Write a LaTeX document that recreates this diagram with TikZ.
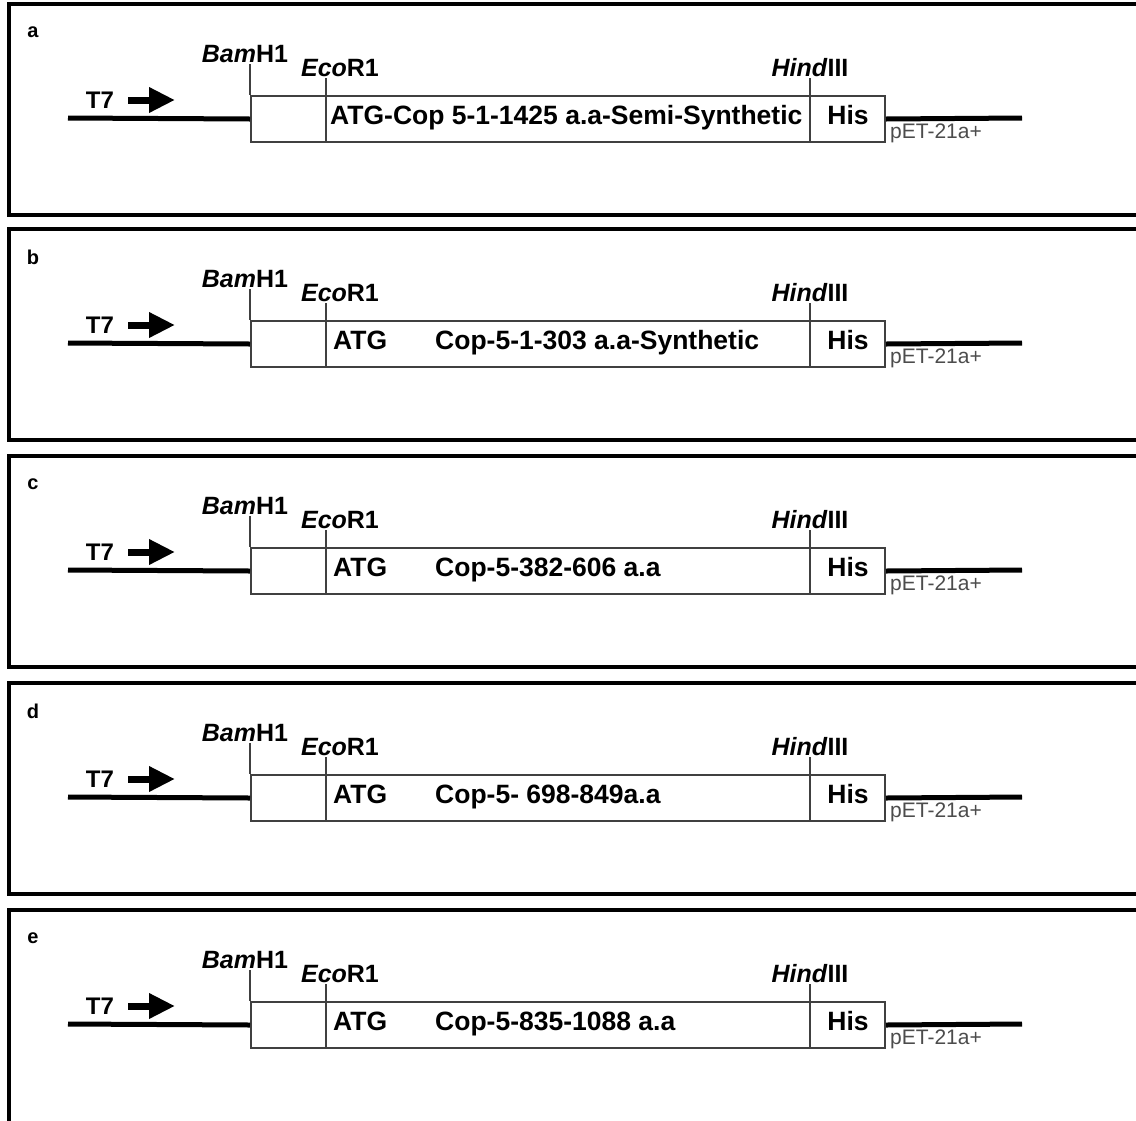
\documentclass[tikz,border=0pt]{standalone}
\usepackage{fontspec}
\setmainfont{Liberation Sans}
\usetikzlibrary{positioning,arrows.meta}

\begin{document}
\begin{tikzpicture}[
  x=1pt,y=-1pt,
  panel/.style={draw=black,line width=4pt},
  ins/.style={rectangle,draw=black!75,line width=2pt,minimum width=634pt,
              minimum height=46pt,anchor=north west,inner sep=0pt},
  tick/.style={draw=black!75,line width=2pt},
  dna/.style={line width=5pt,black},
  site/.style={font=\fontsize{25}{27}\selectfont\bfseries,inner sep=1pt,anchor=south},
  gene/.style={font=\fontsize{26.5}{28}\selectfont\bfseries,inner sep=0pt,anchor=base west},
  his/.style={gene,anchor=base},
  tag/.style={font=\fontsize{20}{22}\selectfont\bfseries,inner sep=0pt},
  vec/.style={font=\fontsize{21}{23}\selectfont,text=black!70,inner sep=0pt,anchor=west},
  prom/.style={font=\fontsize{24}{26}\selectfont\bfseries,inner sep=0pt,anchor=base},
  promo/.style={line width=7pt,-{Triangle[length=26pt,width=24pt]}},
]
\useasboundingbox (0,0) rectangle (1136,1120);

% ---- panel a ----
\begin{scope}
\draw[panel] (9,4) rectangle (1160,215);
\node[tag] (tag-a) at (33,32) {a};
\node[prom] (t7-a) at (100,108) {T7};
\coordinate (tip-a) at (175,100);
\draw[promo] (128,100) -- (tip-a);
\node[ins] (ins-a) at (250,95) {};
\coordinate (bam-a) at (250,64);
\coordinate (eco-a) at (326,78);
\coordinate (hind-a) at (810,78);
\coordinate (start-a) at (68,118);
\coordinate (end-a) at (1022,118);
\draw[tick] (bam-a) -- (ins-a.north west);
\draw[tick] (eco-a) -- (eco-a |- ins-a.south);
\draw[tick] (hind-a) -- (hind-a |- ins-a.south);
\node[site,xshift=-5pt] (bamlbl-a) at (bam-a) {\textit{Bam}H1};
\node[site,xshift=14pt] (ecolbl-a) at (eco-a) {\textit{Eco}R1};
\node[site] (hindlbl-a) at (hind-a) {\textit{Hind}III};
\draw[dna] (start-a) -- (ins-a.west);
\draw[dna] (ins-a.east) -- (end-a);
\node[vec,xshift=4pt] (vec-a) at ([yshift=-14pt]ins-a.east) {pET-21a+};
\node[gene] (cop-a) at (330,124) {ATG-Cop 5-1-1425 a.a-Semi-Synthetic};
\node[his] (his-a) at (848,124) {His};
\end{scope}

% ---- panel b ----
\begin{scope}[yshift=-225pt]
\draw[panel] (9,4) rectangle (1160,215);
\node[tag] (tag-b) at (33,32) {b};
\node[prom] (t7-b) at (100,108) {T7};
\coordinate (tip-b) at (175,100);
\draw[promo] (128,100) -- (tip-b);
\node[ins] (ins-b) at (250,95) {};
\coordinate (bam-b) at (250,64);
\coordinate (eco-b) at (326,78);
\coordinate (hind-b) at (810,78);
\coordinate (start-b) at (68,118);
\coordinate (end-b) at (1022,118);
\draw[tick] (bam-b) -- (ins-b.north west);
\draw[tick] (eco-b) -- (eco-b |- ins-b.south);
\draw[tick] (hind-b) -- (hind-b |- ins-b.south);
\node[site,xshift=-5pt] (bamlbl-b) at (bam-b) {\textit{Bam}H1};
\node[site,xshift=14pt] (ecolbl-b) at (eco-b) {\textit{Eco}R1};
\node[site] (hindlbl-b) at (hind-b) {\textit{Hind}III};
\draw[dna] (start-b) -- (ins-b.west);
\draw[dna] (ins-b.east) -- (end-b);
\node[vec,xshift=4pt] (vec-b) at ([yshift=-14pt]ins-b.east) {pET-21a+};
\node[gene] (atg-b) at (333,124) {ATG};
\node[gene] (cop-b) at (435,124) {Cop-5-1-303 a.a-Synthetic};
\node[his] (his-b) at (848,124) {His};
\end{scope}

% ---- panel c ----
\begin{scope}[yshift=-452pt]
\draw[panel] (9,4) rectangle (1160,215);
\node[tag] (tag-c) at (33,32) {c};
\node[prom] (t7-c) at (100,108) {T7};
\coordinate (tip-c) at (175,100);
\draw[promo] (128,100) -- (tip-c);
\node[ins] (ins-c) at (250,95) {};
\coordinate (bam-c) at (250,64);
\coordinate (eco-c) at (326,78);
\coordinate (hind-c) at (810,78);
\coordinate (start-c) at (68,118);
\coordinate (end-c) at (1022,118);
\draw[tick] (bam-c) -- (ins-c.north west);
\draw[tick] (eco-c) -- (eco-c |- ins-c.south);
\draw[tick] (hind-c) -- (hind-c |- ins-c.south);
\node[site,xshift=-5pt] (bamlbl-c) at (bam-c) {\textit{Bam}H1};
\node[site,xshift=14pt] (ecolbl-c) at (eco-c) {\textit{Eco}R1};
\node[site] (hindlbl-c) at (hind-c) {\textit{Hind}III};
\draw[dna] (start-c) -- (ins-c.west);
\draw[dna] (ins-c.east) -- (end-c);
\node[vec,xshift=4pt] (vec-c) at ([yshift=-14pt]ins-c.east) {pET-21a+};
\node[gene] (atg-c) at (333,124) {ATG};
\node[gene] (cop-c) at (435,124) {Cop-5-382-606 a.a};
\node[his] (his-c) at (848,124) {His};
\end{scope}

% ---- panel d ----
\begin{scope}[yshift=-679pt]
\draw[panel] (9,4) rectangle (1160,215);
\node[tag] (tag-d) at (33,32) {d};
\node[prom] (t7-d) at (100,108) {T7};
\coordinate (tip-d) at (175,100);
\draw[promo] (128,100) -- (tip-d);
\node[ins] (ins-d) at (250,95) {};
\coordinate (bam-d) at (250,64);
\coordinate (eco-d) at (326,78);
\coordinate (hind-d) at (810,78);
\coordinate (start-d) at (68,118);
\coordinate (end-d) at (1022,118);
\draw[tick] (bam-d) -- (ins-d.north west);
\draw[tick] (eco-d) -- (eco-d |- ins-d.south);
\draw[tick] (hind-d) -- (hind-d |- ins-d.south);
\node[site,xshift=-5pt] (bamlbl-d) at (bam-d) {\textit{Bam}H1};
\node[site,xshift=14pt] (ecolbl-d) at (eco-d) {\textit{Eco}R1};
\node[site] (hindlbl-d) at (hind-d) {\textit{Hind}III};
\draw[dna] (start-d) -- (ins-d.west);
\draw[dna] (ins-d.east) -- (end-d);
\node[vec,xshift=4pt] (vec-d) at ([yshift=-14pt]ins-d.east) {pET-21a+};
\node[gene] (atg-d) at (333,124) {ATG};
\node[gene] (cop-d) at (435,124) {Cop-5- 698-849a.a};
\node[his] (his-d) at (848,124) {His};
\end{scope}

% ---- panel e (frame runs off the page) ----
\begin{scope}[yshift=-906pt]
\draw[panel] (9,4) rectangle (1160,240);
\node[tag] (tag-e) at (33,32) {e};
\node[prom] (t7-e) at (100,108) {T7};
\coordinate (tip-e) at (175,100);
\draw[promo] (128,100) -- (tip-e);
\node[ins] (ins-e) at (250,95) {};
\coordinate (bam-e) at (250,64);
\coordinate (eco-e) at (326,78);
\coordinate (hind-e) at (810,78);
\coordinate (start-e) at (68,118);
\coordinate (end-e) at (1022,118);
\draw[tick] (bam-e) -- (ins-e.north west);
\draw[tick] (eco-e) -- (eco-e |- ins-e.south);
\draw[tick] (hind-e) -- (hind-e |- ins-e.south);
\node[site,xshift=-5pt] (bamlbl-e) at (bam-e) {\textit{Bam}H1};
\node[site,xshift=14pt] (ecolbl-e) at (eco-e) {\textit{Eco}R1};
\node[site] (hindlbl-e) at (hind-e) {\textit{Hind}III};
\draw[dna] (start-e) -- (ins-e.west);
\draw[dna] (ins-e.east) -- (end-e);
\node[vec,xshift=4pt] (vec-e) at ([yshift=-14pt]ins-e.east) {pET-21a+};
\node[gene] (atg-e) at (333,124) {ATG};
\node[gene] (cop-e) at (435,124) {Cop-5-835-1088 a.a};
\node[his] (his-e) at (848,124) {His};
\end{scope}
\end{tikzpicture}
\end{document}
